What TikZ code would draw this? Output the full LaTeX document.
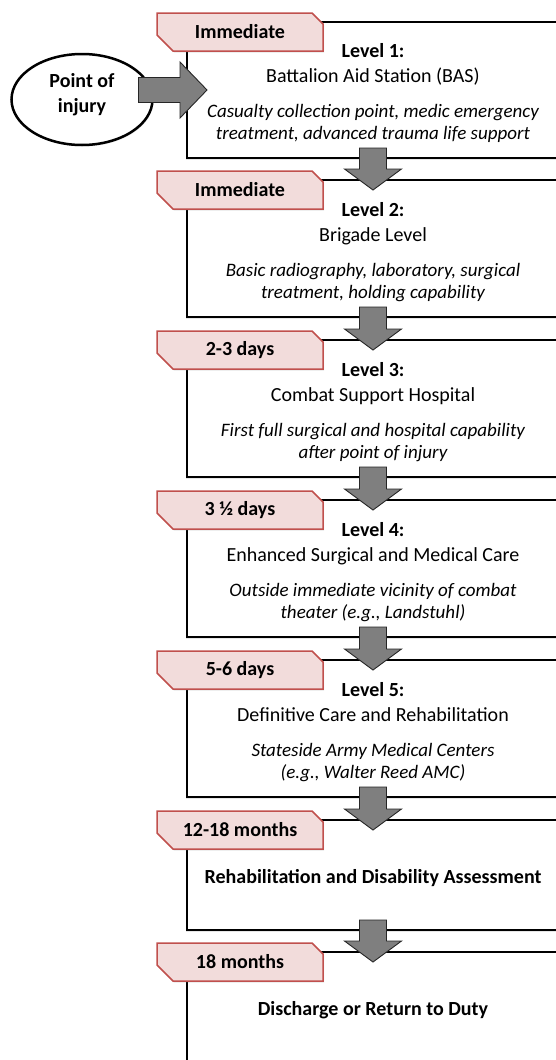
\documentclass[tikz,border=0pt]{standalone}
\usepackage{fontspec}
\setmainfont{Carlito}
\usepackage{xcolor}
\usepackage{tikz}
\usetikzlibrary{calc, positioning, shapes.geometric, shadows}

\newcommand{\detailtext}[1]{{\fontsize{19}{22}\selectfont\itshape #1}}
\newcommand{\topgap}{\rule{0pt}{21pt}}

\begin{document}
\begin{tikzpicture}[x=1pt, y=-1pt,
        levelbox/.style={draw=black, line width=2.5pt, fill=white, anchor=north west,
            minimum width=372pt, inner sep=0pt, outer sep=0pt, align=center,
            font=\fontsize{20}{22}\selectfont,
            drop shadow={opacity=0.2, shadow xshift=-1pt, shadow yshift=-1.5pt}},
        tagedge/.style={draw=tagred, fill=tagpink, line width=1.5pt,
            drop shadow={opacity=0.2, shadow xshift=1pt, shadow yshift=-1.5pt}},
        tagtext/.style={font=\fontsize{20}{22}\selectfont\bfseries, inner sep=0pt},
        flowarrow/.style={draw=black!85, fill=arrowgrey, line width=0.9pt, line join=miter}]
        % Định nghĩa màu sắc
        \definecolor{tagpink}{RGB}{242, 220, 219}
        \definecolor{tagred}{RGB}{192, 80, 77}
        \definecolor{arrowgrey}{RGB}{127, 127, 127}

        \path[use as bounding box, clip] (0,0) rectangle (556,1060);

        % 1. Các hộp mức chăm sóc
        \node[levelbox, minimum height=136pt] (b1) at (187,22) {\topgap\textbf{Level 1:}\\[3pt]
            Battalion Aid Station (BAS)\\[13pt]
            \detailtext{Casualty collection point, medic emergency}\\
            \detailtext{treatment, advanced trauma life support}};
        \node[levelbox, minimum height=137pt] (b2) at (187,180) {\topgap\textbf{Level 2:}\\[3pt]
            Brigade Level\\[13pt]
            \detailtext{Basic radiography, laboratory, surgical}\\
            \detailtext{treatment, holding capability}};
        \node[levelbox, minimum height=137pt] (b3) at (187,340) {\topgap\textbf{Level 3:}\\[3pt]
            Combat Support Hospital\\[13pt]
            \detailtext{First full surgical and hospital capability}\\
            \detailtext{after point of injury}};
        \node[levelbox, minimum height=137pt] (b4) at (187,500) {\topgap\textbf{Level 4:}\\[3pt]
            Enhanced Surgical and Medical Care\\[13pt]
            \detailtext{Outside immediate vicinity of combat}\\
            \detailtext{theater (e.g., Landstuhl)}};
        \node[levelbox, minimum height=137pt] (b5) at (187,660) {\topgap\textbf{Level 5:}\\[3pt]
            Definitive Care and Rehabilitation\\[13pt]
            \detailtext{Stateside Army Medical Centers}\\
            \detailtext{(e.g., Walter Reed AMC)}};
        \node[levelbox, minimum height=110pt] (b6) at (187,820) {\topgap\textbf{Rehabilitation and Disability Assessment}};
        \node[levelbox, minimum height=110pt] (b7) at (187,952) {\topgap\textbf{Discharge or Return to Duty}};

        % 2. Điểm bị thương
        \node[draw=black, fill=white, ellipse, line width=2.5pt, outer sep=0pt,
            minimum width=141pt, minimum height=91pt, inner sep=0pt, align=center,
            font=\fontsize{20}{25}\selectfont\bfseries,
            drop shadow={opacity=0.2, shadow xshift=1pt, shadow yshift=-1.5pt}]
            (injury) at (82,99.5) {Point of\\injury\rule[-13pt]{0pt}{13pt}};

        % 3. Mũi tên khối
        \draw[flowarrow] ($(injury.east |- b1.west)+(-14,-12.5)$) -- ($(b1.west)+(-7,-12.5)$)
            -- ($(b1.west)+(-7,-28)$) -- ($(b1.west)+(20,0)$) -- ($(b1.west)+(-7,28)$)
            -- ($(b1.west)+(-7,12.5)$) -- ($(injury.east |- b1.west)+(-14,12.5)$) -- cycle;
        \foreach \a/\b in {b1/b2, b2/b3, b3/b4, b4/b5, b5/b6, b6/b7}
            \draw[flowarrow] ($(\a.south)+(-13.5,-10)$) -- ($(\a.south)+(13.5,-10)$)
                -- ($(\b.north)+(13.5,-11)$) -- ($(\b.north)+(28.5,-11)$) -- ($(\b.north)+(0,10)$)
                -- ($(\b.north)+(-28.5,-11)$) -- ($(\b.north)+(-13.5,-11)$) -- cycle;

        % 4. Nhãn thời gian
        \foreach \bx/\tm in {b1/Immediate, b2/Immediate, b3/2-3 days, b4/3 ½ days,
                b5/5-6 days, b6/12-18 months, b7/18 months} {
            \draw[tagedge] ($(\bx.north west)+(-30,-9)$) -- ($(\bx.north west)+(125,-9)$)
                -- ($(\bx.north west)+(136,2)$) -- ($(\bx.north west)+(136,29)$)
                -- ($(\bx.north west)+(-14,29)$) -- ($(\bx.north west)+(-30,13)$) -- cycle;
            \node[tagtext] (tag-\bx) at ($(\bx.north west)+(53,10)$) {\tm};
        }

    \end{tikzpicture}
\end{document}
